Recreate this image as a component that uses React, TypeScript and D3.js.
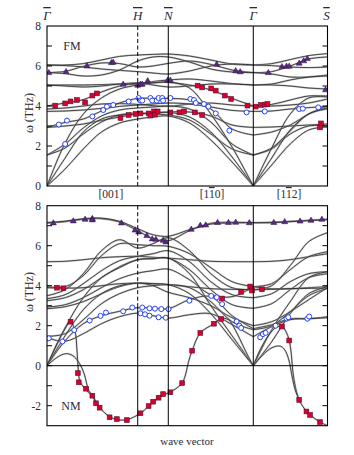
import React from 'react';
import * as d3 from 'd3';

// ---------- data ----------
const K_POS = [0, 1.0, 1.337, 2.274, 3.092];
const K_LABELS = ['Γ', 'H', 'N', 'Γ', 'S'];
const K_GRID = [0, 0.2, 0.4, 0.6, 0.8, 1.0, 1.167, 1.337, 1.571, 1.806, 2.04, 2.274, 2.477, 2.681, 2.884, 3.092];
const TOP_TICKS = [0, 2, 4, 6, 8];
const BOT_TICKS = [-2, 0, 2, 4, 6, 8];

// FM branches (values at K_GRID)
const fm1 = [6.05, 6.05, 6.12, 6.3, 6.48, 6.55, 6.58, 6.6, 6.5, 6.3, 6.1, 6.05, 6.12, 6.32, 6.52, 6.62];
const fm2 = [5.67, 5.73, 5.98, 6.15, 6.12, 5.95, 6.0, 6.13, 6.25, 6.08, 5.8, 5.67, 5.72, 6.0, 6.35, 6.45];
const fm3 = [6.05, 6.02, 5.95, 5.85, 5.78, 5.72, 5.65, 5.6, 5.75, 6.0, 6.1, 6.05, 6.02, 5.95, 5.92, 5.95];
const fm4 = [5.67, 5.62, 5.5, 5.55, 5.8, 6.25, 6.45, 6.45, 6.2, 5.85, 5.7, 5.67, 5.6, 5.45, 5.45, 5.55];
const fm5 = [5.05, 5.05, 5.05, 5.07, 5.1, 5.08, 5.22, 5.3, 5.35, 5.25, 5.12, 5.05, 5.05, 5.0, 4.9, 4.85];
const fm6 = [5.05, 5.0, 4.95, 5.0, 5.1, 5.15, 5.05, 4.95, 5.0, 5.1, 5.1, 5.05, 5.1, 5.3, 5.45, 5.5];
const fm7 = [4.0, 4.15, 4.32, 4.7, 5.0, 5.15, 5.17, 5.18, 5.05, 4.8, 4.38, 4.0, 4.08, 4.3, 4.5, 4.5];
const fm8 = [3.85, 3.9, 4.0, 4.1, 4.12, 4.08, 4.02, 3.98, 4.1, 4.15, 4.05, 4.0, 4.0, 4.05, 4.15, 4.35];
const fm9 = [2.93, 3.18, 3.35, 3.75, 4.15, 4.38, 4.38, 4.38, 4.3, 3.85, 2.85, 2.55, 2.7, 3.05, 3.6, 4.0];
const fm10 = [3.73, 3.75, 3.8, 3.88, 3.98, 4.05, 4.1, 4.15, 4.1, 3.95, 3.78, 3.73, 3.75, 3.85, 3.92, 3.97];
const fm11 = [2.93, 3.0, 3.1, 3.28, 3.45, 3.6, 3.65, 3.7, 3.7, 3.5, 3.05, 2.93, 2.95, 3.0, 3.05, 3.1];
const fm12 = [1.55, 2.1, 2.9, 3.5, 3.8, 3.9, 3.95, 4.0, 3.85, 3.2, 2.1, 1.55, 1.85, 2.6, 3.0, 3.0];
const fm13 = [1.55, 1.9, 2.6, 3.2, 3.55, 3.65, 3.6, 3.55, 3.3, 2.6, 1.85, 1.55, 1.9, 2.75, 3.6, 3.85];
const fm14 = [0, 0.85, 1.85, 2.7, 3.15, 3.35, 3.45, 3.5, 3.15, 2.3, 1.2, 0, 1.05, 2.1, 2.8, 2.95];
const fm15 = [0, 1.4, 2.7, 3.35, 3.55, 3.6, 3.65, 3.68, 3.45, 2.7, 1.45, 0, 1.4, 2.8, 3.6, 3.9];
const fm16 = [0, 2.15, 3.6, 4.4, 4.85, 5.05, 5.15, 5.2, 4.9, 3.6, 1.95, 0, 1.9, 3.6, 4.4, 4.45];
const FM_BRANCHES = [fm1, fm2, fm3, fm4, fm5, fm6, fm7, fm8, fm9, fm10, fm11, fm12, fm13, fm14, fm15, fm16];

// NM branches (values at K_GRID)
const nm1 = [7.13, 7.2, 7.32, 7.35, 7.18, 6.75, 6.35, 6.25, 6.75, 7.12, 7.17, 7.15, 7.17, 7.22, 7.27, 7.33];
const nm2 = [7.16, 7.23, 7.35, 7.38, 7.22, 6.85, 6.55, 6.47, 6.8, 7.08, 7.14, 7.15, 7.15, 7.2, 7.25, 7.3];
const nm3 = [5.2, 5.22, 5.3, 5.4, 5.45, 5.47, 5.42, 5.38, 5.3, 5.22, 5.2, 5.2, 5.22, 5.3, 5.45, 5.6];
const nm4 = [3.95, 3.95, 4.5, 5.5, 6.1, 6.05, 6.0, 5.97, 5.6, 4.9, 4.2, 3.95, 4.1, 4.8, 5.45, 5.7];
const nm5 = [3.5, 3.8, 4.6, 5.75, 6.3, 5.88, 6.1, 6.4, 5.75, 4.6, 3.9, 3.8, 4.0, 5.0, 6.2, 6.65];
const nm6 = [3.35, 3.55, 4.1, 4.75, 5.25, 5.47, 5.6, 5.75, 5.2, 4.2, 3.55, 3.4, 3.6, 4.2, 4.6, 4.7];
const nm7 = [3.25, 3.4, 3.8, 4.4, 4.95, 5.3, 5.35, 5.38, 4.8, 3.8, 3.05, 2.87, 3.1, 3.8, 4.4, 4.6];
const nm8 = [2.93, 3.05, 3.4, 3.9, 4.35, 4.63, 4.75, 4.83, 4.3, 3.55, 3.45, 3.95, 3.85, 3.85, 3.9, 3.95];
const nm9 = [3.9, 3.88, 3.9, 4.0, 4.1, 4.13, 4.1, 4.05, 3.95, 3.85, 3.82, 3.8, 3.82, 3.85, 3.87, 3.87];
const nm10 = [0, 1.25, 2.1, 2.5, 2.72, 2.9, 2.88, 2.85, 3.3, 3.45, 2.5, 1.85, 2.05, 2.35, 2.35, 2.45];
const nm11 = [1.4, 1.22, 1.6, 2.1, 2.45, 2.63, 2.5, 2.38, 2.55, 2.6, 2.05, 1.45, 1.95, 2.3, 2.35, 2.4];
const nm12 = [2.85, 2.95, 3.2, 3.6, 3.95, 4.13, 4.0, 3.67, 3.4, 3.0, 2.4, 2.0, 2.2, 2.7, 3.3, 3.9];
const nm13 = [1.47, 1.6, 2.3, 3.1, 3.6, 3.9, 4.0, 4.05, 3.9, 3.2, 2.2, 1.8, 2.0, 2.7, 3.5, 3.87];
const nm14 = [0, 1.9, 3.4, 4.4, 4.9, 5.3, 5.35, 5.38, 4.6, 3.0, 1.5, 0, 1.8, 3.2, 4.4, 4.7];
const nm15 = [0, 1.5, 2.8, 3.6, 4.0, 4.13, 4.1, 4.05, 3.6, 2.6, 1.3, 0, 1.2, 2.6, 3.6, 3.95];
const NM_BRANCHES = [nm1, nm2, nm3, nm4, nm5, nm6, nm7, nm8, nm9, nm10, nm11, nm12, nm13, nm14, nm15];

// NM soft (unstable) modes, own k points
const softAk = [0, 0.09, 0.18, 0.26, 0.31, 0.33, 0.345, 0.36, 0.4, 0.45, 0.5, 0.54, 0.58, 0.69, 0.78, 0.88, 1.03, 1.12, 1.23, 1.34, 1.42, 1.49, 1.53, 1.56, 1.6, 1.69, 1.84, 1.92, 2.0, 2.08, 2.16, 2.22, 2.274];
const softAw = [0, 0.9, 1.7, 2.2, 1.7, 0.8, -0.2, -0.75, -1.05, -1.3, -1.5, -1.88, -2.1, -2.55, -2.7, -2.7, -2.38, -2.02, -1.6, -1.35, -1.15, -0.87, -0.4, 0.2, 0.75, 1.64, 2.1, 2.36, 2.3, 1.75, 1.0, 0.45, 0];
const softBk = [0, 0.09, 0.165, 0.23, 0.3, 0.36, 0.41, 0.435, 0.46, 0.51, 0.545, 0.58];
const softBw = [0, 0.35, 0.55, 0.6, 0.45, 0.1, -0.4, -0.85, -1.25, -1.55, -1.85, -2.05];
const softCk = [2.274, 2.35, 2.44, 2.52, 2.59, 2.635, 2.67, 2.695, 2.71, 2.74, 2.78, 2.86, 2.9, 3.01, 3.092];
const softCw = [0, 0.8, 1.5, 1.9, 1.96, 1.7, 1.26, 0.5, -0.3, -1.1, -1.71, -2.29, -2.46, -2.82, -3.0];
const softDk = [2.274, 2.37, 2.48, 2.57, 2.62, 2.665, 2.7, 2.735, 2.775];
const softDw = [0, 0.5, 0.9, 0.98, 0.8, 0.3, -0.5, -1.2, -1.65];

// Experimental points FM
const fmSqK = [0.09, 0.2, 0.26, 0.33, 0.42, 0.5, 0.55, 0.81, 0.9, 0.98, 1.03, 1.12, 1.14, 1.18, 1.19, 1.22, 1.36, 1.46, 1.51, 1.63, 1.71, 1.66, 1.71, 1.81, 1.86, 1.96, 2.03, 2.21, 2.3, 2.36, 2.4, 2.43, 3.02, 3.01];
const fmSqW = [4.02, 4.13, 4.23, 4.3, 4.18, 4.52, 4.63, 3.4, 3.55, 3.6, 3.63, 3.63, 3.52, 3.73, 3.57, 3.73, 3.68, 3.68, 3.73, 3.68, 3.55, 5.02, 4.93, 4.88, 4.77, 4.52, 4.35, 4.02, 3.97, 4.05, 4.07, 4.1, 3.13, 2.93];
const fmCiK = [0.13, 0.22, 0.2, 0.5, 0.62, 0.66, 0.73, 0.9, 1.01, 1.03, 1.05, 1.14, 1.16, 1.21, 1.23, 1.27, 1.28, 1.36, 1.58, 1.62, 1.64, 1.73, 1.78, 1.86, 2.01, 2.2, 2.4, 2.78, 2.82, 2.99];
const fmCiW = [3.07, 3.27, 2.1, 3.48, 3.8, 3.97, 4.05, 4.23, 4.4, 4.27, 4.27, 4.4, 4.27, 4.27, 4.4, 4.4, 4.27, 4.4, 4.35, 4.3, 4.15, 4.1, 3.97, 3.63, 2.77, 3.68, 3.73, 3.85, 3.87, 3.93];
const fmTrK = [0.02, 0.21, 0.44, 0.71, 0.73, 0.84, 1.0, 1.03, 1.05, 1.11, 1.33, 1.36, 1.87, 2.08, 2.13, 2.44, 2.59, 2.64, 2.67, 2.78, 2.83, 2.87, 3.07];
const fmTrW = [5.68, 5.73, 6.02, 6.18, 6.2, 5.1, 5.05, 5.1, 5.1, 5.27, 5.3, 5.3, 6.1, 5.77, 5.72, 5.68, 5.98, 6.0, 6.0, 6.15, 6.27, 6.38, 4.82];

// Experimental points NM
const nmSqK = [0.11, 0.18, 0.26, 0.34, 0.35, 0.43, 0.5, 0.54, 0.58, 0.69, 0.77, 0.88, 1.03, 1.12, 1.17, 1.23, 1.28, 1.36, 1.49, 1.6, 1.69, 1.84, 1.92, 1.93, 2.14, 2.24, 2.26, 2.37, 2.59, 2.67, 2.78, 2.86, 2.9, 3.01];
const nmSqW = [3.9, 3.87, 2.2, -0.37, -0.83, -1.15, -1.5, -1.88, -2.1, -2.58, -2.67, -2.72, -2.38, -2.02, -1.8, -1.6, -1.42, -1.33, -0.87, 0.75, 1.64, 2.1, 2.34, 3.36, 3.69, 3.96, 3.76, 3.82, 1.96, 1.26, -1.71, -2.29, -2.46, -2.82];
const nmCiK = [0.02, 0.17, 0.3, 0.47, 0.59, 0.65, 0.84, 0.94, 1.05, 1.13, 1.19, 1.26, 1.34, 1.03, 1.08, 1.13, 1.23, 1.31, 1.57, 1.81, 1.87, 1.93, 2.09, 2.12, 2.14, 2.35, 2.38, 2.41, 2.52, 2.64, 2.66, 2.87, 2.89];
const nmCiW = [1.37, 1.21, 1.78, 2.26, 2.49, 2.66, 2.72, 2.91, 2.91, 2.87, 2.85, 2.83, 2.83, 2.62, 2.57, 2.5, 2.42, 2.4, 3.25, 3.49, 3.42, 3.08, 2.21, 2.0, 1.89, 1.42, 1.58, 1.64, 2.0, 2.36, 2.42, 2.35, 2.46];
const nmTrK = [0.07, 0.29, 0.42, 0.5, 0.5, 0.82, 0.97, 1.01, 1.1, 1.16, 1.2, 1.28, 1.31, 1.59, 1.69, 1.75, 1.88, 2.0, 2.08, 2.23, 2.5, 2.62, 2.79, 2.91, 3.03];
const nmTrW = [7.15, 7.25, 7.33, 7.37, 7.3, 7.15, 6.79, 6.7, 6.52, 6.35, 6.33, 6.28, 6.2, 6.83, 7.03, 7.05, 7.17, 7.17, 7.18, 7.16, 7.17, 7.21, 7.24, 7.28, 7.33];

// ---------- layout ----------
const X0 = 47, X1 = 327.5;
const x = d3.scaleLinear().domain([0, 3.092]).range([X0, X1]);
const yTop = d3.scaleLinear().domain([0, 8]).range([186, 26]);
const yBot = d3.scaleLinear().domain([-3, 8]).range([425.7, 205.7]);

const TEXT = '#2a2a38';
const FONT = '"Liberation Serif", "DejaVu Serif", serif';

function branchPaths(vals: number[], y: d3.ScaleLinear<number, number>) {
  const pts = K_GRID.map((k, i) => [x(k), y(vals[i])] as [number, number]);
  const line = d3.line().curve(d3.curveCatmullRom.alpha(0.5));
  return [line(pts.slice(0, 12)) || '', line(pts.slice(11)) || ''];
}

function softPath(ks: number[], ws: number[], y: d3.ScaleLinear<number, number>) {
  const line = d3.line().curve(d3.curveCatmullRom.alpha(0.5));
  return line(ks.map((k, i) => [x(k), y(ws[i])] as [number, number])) || '';
}

function Curve({ d }: { d: string }) {
  return (
    <g>
      <path d={d} fill="none" stroke="#9a9a9a" strokeWidth={1.9} strokeOpacity={0.55} />
      <path d={d} fill="none" stroke="#1a1a1a" strokeWidth={0.75} />
    </g>
  );
}

function Markers({ sqK, sqW, ciK, ciW, trK, trW, y }: any) {
  return (
    <g>
      {sqK.map((k: number, i: number) => (
        <rect key={'s' + i} x={x(k) - 2.4} y={y(sqW[i]) - 2.4} width={4.8} height={4.8}
          fill="#d8002c" stroke="#5a1030" strokeWidth={0.6} />
      ))}
      {ciK.map((k: number, i: number) => (
        <circle key={'c' + i} cx={x(k)} cy={y(ciW[i])} r={2.5} fill="white" stroke="#2440ff" strokeWidth={1} />
      ))}
      {trK.map((k: number, i: number) => {
        const cx = x(k), cy = y(trW[i]);
        return <path key={'t' + i} d={`M${cx - 3},${cy + 2.2}L${cx + 3},${cy + 2.2}L${cx},${cy - 3}Z`}
          fill="#5b2a86" stroke="#2a1040" strokeWidth={0.5} />;
      })}
    </g>
  );
}

function Panel({ y, branches, ticks, dom, clipId, hDashTo, children }: any) {
  const [lo, hi] = dom;
  const ints = d3.range(Math.ceil(lo), Math.floor(hi) + 1);
  const top = y(hi), bot = y(lo);
  return (
    <g>
      <defs>
        <clipPath id={clipId}><rect x={X0} y={top} width={X1 - X0} height={bot - top} /></clipPath>
      </defs>
      <g clipPath={`url(#${clipId})`}>
        {branches.map((b: number[], i: number) =>
          branchPaths(b, y).map((d, j) => <Curve key={i + '-' + j} d={d} />)
        )}
        {children}
      </g>
      {/* vertical high-symmetry lines */}
      <line x1={x(K_POS[1])} x2={x(K_POS[1])} y1={top} y2={hDashTo} stroke="black" strokeWidth={1} strokeDasharray="4,2.5" />
      {hDashTo < bot && <line x1={x(K_POS[1])} x2={x(K_POS[1])} y1={hDashTo} y2={bot} stroke="black" strokeWidth={1} />}
      {[K_POS[2], K_POS[3]].map((k, i) => (
        <line key={i} x1={x(k)} x2={x(k)} y1={top} y2={bot} stroke="black" strokeWidth={1} />
      ))}
      {lo < 0 && <line x1={X0} x2={X1} y1={y(0)} y2={y(0)} stroke="black" strokeWidth={1} />}
      {ints.filter((v: number) => v > lo && v < hi).map((v: number) => (
        <g key={v}>
          <line x1={X0} x2={X0 + 5} y1={y(v)} y2={y(v)} stroke="black" strokeWidth={1} />
          <line x1={X1 - 5} x2={X1} y1={y(v)} y2={y(v)} stroke="black" strokeWidth={1} />
        </g>
      ))}
      <rect x={X0} y={top} width={X1 - X0} height={bot - top} fill="none" stroke="black" strokeWidth={1.1} />
      {ticks.map((v: number) => (
        <text key={v} x={41} y={y(v) + 4} textAnchor="end" fontSize={11.5} fill={TEXT} fontFamily={FONT}>{v}</text>
      ))}
    </g>
  );
}

export default function App() {
  return (
    <svg width={354} height={455} style={{ display: 'block', position: 'absolute', left: 0, top: 0 }}>
      <rect width={354} height={455} fill="white" />
      {/* k-point labels */}
      {K_POS.map((k, i) => (
        <text key={i} x={x(k) + (i === 4 ? -1 : 0)} y={20} textAnchor="middle" fontSize={13} fontStyle="italic"
          fill={TEXT} fontFamily={FONT} style={{ textDecoration: 'overline' }}>{K_LABELS[i]}</text>
      ))}
      <Panel y={yTop} branches={FM_BRANCHES} ticks={TOP_TICKS} dom={[0, 8]} clipId="clipTop" hDashTo={186}>
        <Markers sqK={fmSqK} sqW={fmSqW} ciK={fmCiK} ciW={fmCiW} trK={fmTrK} trW={fmTrW} y={yTop} />
      </Panel>
      <Panel y={yBot} branches={NM_BRANCHES} ticks={BOT_TICKS} dom={[-3, 8]} clipId="clipBot" hDashTo={yBot(3)}>
        {[softPath(softAk, softAw, yBot), softPath(softBk, softBw, yBot), softPath(softCk, softCw, yBot), softPath(softDk, softDw, yBot)].map((d, i) => (
          <Curve key={i} d={d} />
        ))}
        <Markers sqK={nmSqK} sqW={nmSqW} ciK={nmCiK} ciW={nmCiW} trK={nmTrK} trW={nmTrW} y={yBot} />
      </Panel>
      {/* direction labels */}
      <text x={111} y={198} textAnchor="middle" fontSize={11.5} fill={TEXT} fontFamily={FONT}>[001]</text>
      <text x={212} y={198} textAnchor="middle" fontSize={11.5} fill={TEXT} fontFamily={FONT}>
        [1<tspan style={{ textDecoration: 'overline' }}>1</tspan>0]
      </text>
      <text x={289} y={198} textAnchor="middle" fontSize={11.5} fill={TEXT} fontFamily={FONT}>
        [1<tspan style={{ textDecoration: 'overline' }}>1</tspan>2]
      </text>
      <text x={72} y={50} fontSize={12} fill={TEXT} fontFamily={FONT} textAnchor="middle">FM</text>
      <text x={71} y={410} fontSize={12} fill={TEXT} fontFamily={FONT} textAnchor="middle">NM</text>
      <text transform="translate(33,113) rotate(-90)" textAnchor="middle" fontSize={12} fill={TEXT} fontFamily={FONT}>ω (THz)</text>
      <text transform="translate(33,292) rotate(-90)" textAnchor="middle" fontSize={12} fill={TEXT} fontFamily={FONT}>ω (THz)</text>
      <text x={187} y={445} textAnchor="middle" fontSize={11} fill={TEXT} fontFamily={FONT}>wave vector</text>
    </svg>
  );
}
